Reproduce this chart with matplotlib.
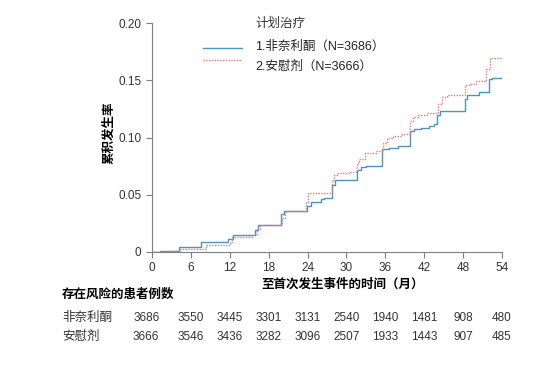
import numpy as np
import matplotlib
matplotlib.use('Agg')
import matplotlib.pyplot as plt
from matplotlib.transforms import blended_transform_factory

plt.rcParams['font.family'] = ['Liberation Sans', 'Noto Sans CJK SC', 'DejaVu Sans']

# cumulative incidence (steps)
fin_t = [0, 1.2, 4.1, 7.6, 11.8, 12.5, 15.9, 16.3, 19.9, 20.4, 23.9, 24.5, 26.0,
         26.6, 27.7, 28.3, 31.6, 32.2, 33.0, 35.5, 36.5, 38.0, 39.8, 40.4, 41.5,
         42.7, 43.5, 44.0, 44.4, 48.3, 48.6, 50.5, 52.0, 52.4, 54]
fin_v = [0, 0.0012, 0.004, 0.0085, 0.011, 0.015, 0.019, 0.024, 0.033, 0.036,
         0.040, 0.044, 0.046, 0.047, 0.0588, 0.0632, 0.072, 0.074, 0.075, 0.0897,
         0.091, 0.093, 0.1058, 0.107, 0.108, 0.110, 0.112, 0.120, 0.1235, 0.134,
         0.137, 0.140, 0.151, 0.152, 0.152]

pbo_t = [0, 1.5, 4.3, 8.3, 12.1, 12.4, 15.4, 16.2, 16.6, 20.1, 20.5, 23.8, 24.1,
         27.7, 28.1, 28.6, 30.5, 31.7, 32.0, 32.8, 34.5, 35.7, 36.3, 37.2, 38.5,
         39.8, 40.2, 41.0, 42.5, 44.2, 44.7, 45.5, 48.3, 49.0, 50.0, 51.5, 52.2,
         54]
pbo_v = [0, 0.001, 0.003, 0.006, 0.009, 0.013, 0.015, 0.020, 0.024, 0.030, 0.036,
         0.044, 0.0515, 0.063, 0.0676, 0.069, 0.0697, 0.078, 0.081, 0.0868,
         0.088, 0.095, 0.100, 0.101, 0.103, 0.1147, 0.1176, 0.120, 0.1215, 0.129,
         0.135, 0.137, 0.1455, 0.147, 0.149, 0.160, 0.169, 0.169]

# numbers at risk
risk_times = [0, 6, 12, 18, 24, 30, 36, 42, 48, 54]
fin_risk = [3686, 3550, 3445, 3301, 3131, 2540, 1940, 1481, 908, 480]
pbo_risk = [3666, 3546, 3436, 3282, 3096, 2507, 1933, 1443, 907, 485]

blue = '#4f93c3'
red = '#e27a7a'
grey = '#7f7f7f'

fig = plt.figure(figsize=(5.52, 3.70), dpi=100)
ax = fig.add_axes([152 / 552, 1 - 252 / 370, 350 / 552, 229 / 370])

ax.step(fin_t, fin_v, where='post', color=blue, lw=1.0)
ax.step(pbo_t, pbo_v, where='post', color=red, lw=1.0, ls=(0, (1, 1)))

ax.set_xlim(0, 54)
ax.set_ylim(0, 0.20)
ax.set_xticks(risk_times)
ax.set_yticks([0, 0.05, 0.10, 0.15, 0.20])
ax.set_yticklabels(['0', '0.05', '0.10', '0.15', '0.20'])
for s in ['top', 'right']:
    ax.spines[s].set_visible(False)
for s in ['left', 'bottom']:
    ax.spines[s].set_color(grey)
    ax.spines[s].set_linewidth(0.8)
ax.tick_params(colors=grey, labelcolor='#333333', labelsize=8.5, length=4, width=0.8)

ax.set_ylabel('累积发生率', fontsize=9, fontweight='bold', labelpad=6)
ax.yaxis.set_label_coords(-0.105, 0.52)
fig.text(343 / 552, 1 - 284 / 370, '至首次发生事件的时间（月）', ha='center', va='center',
         fontsize=9, fontweight='bold')

# legend drawn by hand
fig.text(255 / 552, 1 - 24 / 370, '计划治疗', fontsize=9, va='center', color='#333333')
fig.add_artist(plt.Line2D([203 / 552, 242 / 552], [1 - 48 / 370] * 2, color=blue, lw=1.0))
fig.add_artist(plt.Line2D([203 / 552, 242 / 552], [1 - 60 / 370] * 2, color=red, lw=1.0,
                          ls=(0, (1, 1))))
fig.text(255 / 552, 1 - 47 / 370, '1.非奈利酮（N=3686）', fontsize=9, va='center', color='#222222')
fig.text(255 / 552, 1 - 67 / 370, '2.安慰剂（N=3666）', fontsize=9, va='center', color='#222222')

# risk table
fig.text(62 / 552, 1 - 295 / 370, '存在风险的患者例数', fontsize=9, fontweight='bold', va='center')
tr = blended_transform_factory(ax.transData, fig.transFigure)
for label, counts, yy in [('非奈利酮', fin_risk, 318), ('安慰剂', pbo_risk, 337)]:
    fig.text(62 / 552, 1 - yy / 370, label, fontsize=9, va='center', color='#333333')
    for i, (t, n) in enumerate(zip(risk_times, counts)):
        x = t - 0.9 if i == 0 else t
        ax.text(x, 1 - yy / 370, str(n), transform=tr, ha='center', va='center',
                fontsize=8.5, color='#333333', clip_on=False)

fig.savefig('out.png', dpi=100)
